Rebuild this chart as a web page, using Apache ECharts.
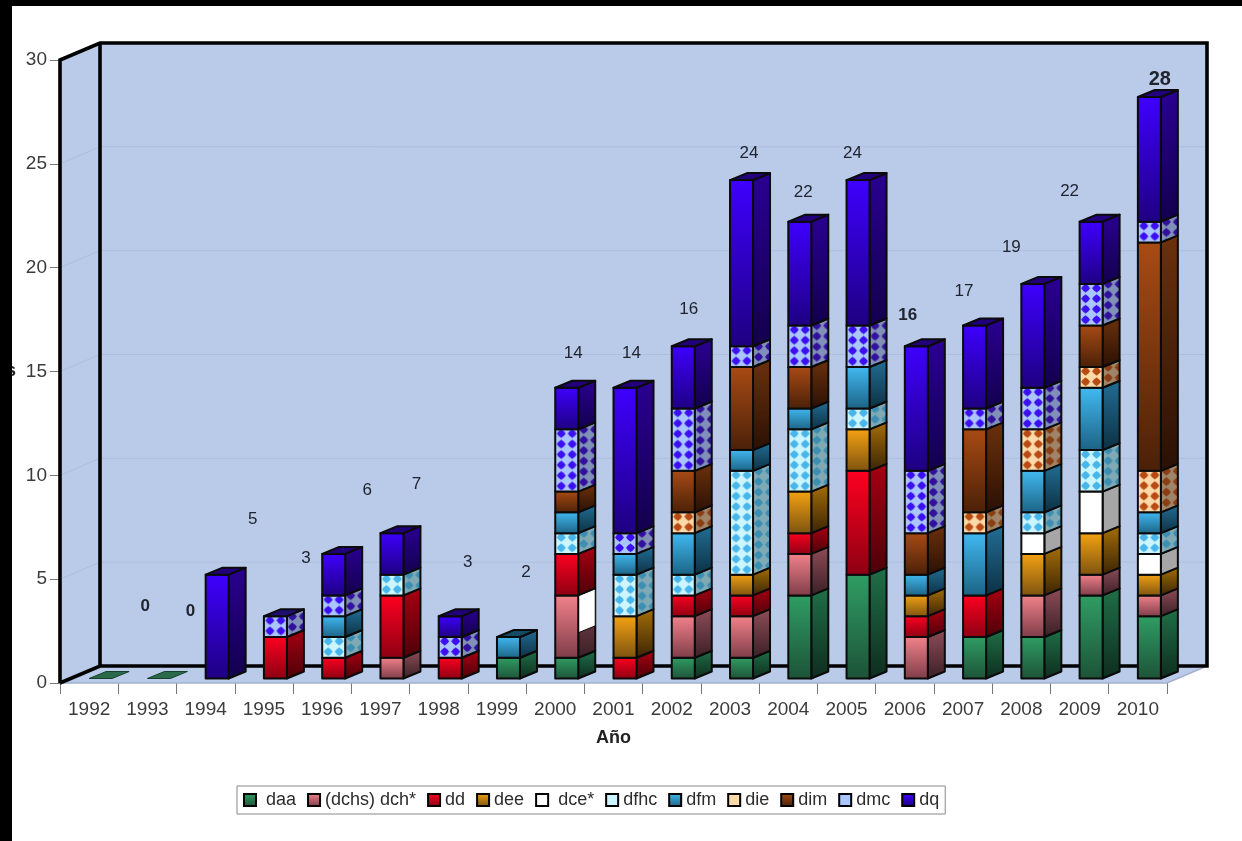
<!DOCTYPE html>
<html><head><meta charset="utf-8">
<style>html,body{margin:0;padding:0;background:#fff}#c{width:1242px;height:841px;filter:blur(0.45px)}</style>
<script src="https://cdn.jsdelivr.net/npm/echarts@6/dist/echarts.min.js"></script>
</head><body><div id="c"></div>
<script>
var years=['1992','1993','1994','1995','1996','1997','1998','1999','2000','2001','2002','2003','2004','2005','2006','2007','2008','2009','2010'];
var daa =[0,0,0,0,0,0,0,1,1,0,1,1,4,5,0,2,2,4,3];
var dch =[0,0,0,0,0,1,0,0,3,0,2,2,2,0,2,0,2,1,1];
var dd  =[0,0,0,2,1,3,1,0,2,1,1,1,1,5,1,2,0,0,0];
var dee =[0,0,0,0,0,0,0,0,0,2,0,1,2,2,1,0,2,2,1];
var dce =[0,0,0,0,0,0,0,0,0,0,0,0,0,0,0,0,1,2,1];
var dfhc=[0,0,0,0,1,1,0,0,1,2,1,5,3,1,0,0,1,2,1];
var dfm =[0,0,0,0,1,0,0,1,1,1,2,1,1,2,1,3,2,3,1];
var die =[0,0,0,0,0,0,0,0,0,0,1,0,0,0,0,1,2,1,2];
var dim =[0,0,0,0,0,0,0,0,1,0,2,4,2,0,2,4,0,2,11];
var dmc =[0,0,0,1,1,0,1,0,3,1,3,1,2,2,3,1,2,2,1];
var dq  =[0,0,5,0,2,2,1,0,2,7,3,8,5,7,6,4,5,3,6];
var totals=[0,0,5,3,6,7,3,2,14,14,16,24,22,24,16,17,19,22,28];
var yTicks=[0,5,10,15,20,25,30];

var labelDx=[56,43,47,42,45,36,29,29,18,18,17,19,15,6,3,1,-10,-10,22];
var labelDy=[-77,-72,-60,-62,-68,-53,-58,-69.5,-39,-39,-41,-31,-34,-31,-35,-39,-41,-35,-22];
var labelBold=[1,1,0,0,0,0,0,0,0,0,0,0,0,0,1,0,0,0,1];

function g(a,b){return {type:'linear',x:0,y:0,x2:0,y2:1,colorStops:[{offset:0,color:a},{offset:1,color:b}]};}
function tile(bg,dot){
  var c=document.createElement('canvas');c.width=11;c.height=21;
  var x=c.getContext('2d');x.fillStyle=bg;x.fillRect(0,0,11,21);x.fillStyle=dot;
  [[5.5,5.25],[5.5,15.75]].forEach(function(p){
    x.beginPath();x.moveTo(p[0],p[1]-4.6);x.lineTo(p[0]+4.6,p[1]);x.lineTo(p[0],p[1]+4.6);x.lineTo(p[0]-4.6,p[1]);x.closePath();x.fill();
    x.beginPath();x.arc(p[0],p[1],3.3,0,Math.PI*2);x.fill();});
  return {image:c,repeat:'repeat'};
}
function at(fill,x,y){return fill&&fill.image?{image:fill.image,repeat:'repeat',x:x,y:y}:fill;}
var styles=[
 {name:'daa',vals:daa,front:g('#2f9e64','#1d5238'),side:g('#1f7048','#0e2c1e'),top:'#123f2a',icon:g('#2f9e64','#1d5238')},
 {name:'(dchs) dch*',vals:dch,front:g('#f4838c','#7d3c48'),side:g('#8f4d58','#3a1f26'),top:'#5a2a32',icon:g('#f4838c','#7d3c48')},
 {name:'dd',vals:dd,front:g('#ff0020','#8c0012'),side:g('#a80012','#4c0008'),top:'#6a000c',icon:g('#ff0020','#8c0012')},
 {name:'dee',vals:dee,front:g('#f6a312','#7c5210'),side:g('#a66e08','#3a2404'),top:'#5a3a06',icon:g('#f6a312','#7c5210')},
 {name:'dce*',vals:dce,front:'#ffffff',side:'#a6a6a6',top:'#777',icon:'#ffffff'},
 {name:'dfhc',vals:dfhc,front:tile('#cdf5ff','#48b6ea'),side:tile('#7fa9b5','#3c8fb2'),top:'#3c7c94',icon:'#cdf5ff'},
 {name:'dfm',vals:dfm,front:g('#42baf2','#1b6284'),side:g('#226e96','#0c3042'),top:'#134a64',icon:g('#42baf2','#1b6284')},
 {name:'die',vals:die,front:tile('#fcd9a8','#b84a14'),side:tile('#a08468','#8a3e14'),top:'#6a3a18',icon:'#fcd9a8'},
 {name:'dim',vals:dim,front:g('#a94b14','#4a2008'),side:g('#6c310c','#2a1004'),top:'#3e1a06',icon:g('#a94b14','#4a2008')},
 {name:'dmc',vals:dmc,front:tile('#aac6fc','#3c0ff0'),side:tile('#8090b8','#30109c'),top:'#1e1070',icon:'#aac6fc'},
 {name:'dq',vals:dq,front:g('#3e00ff','#1e0080'),side:g('#2a0092','#12004c'),top:'#22007c',icon:g('#3e00ff','#1e0080')}
];

var wallColor='#bacbe9', DX=40, DY=-17;
var barW=23, barDX=17, barDY=-7, lift=4.5;
var stroke={stroke:'#0b0b0b',lineWidth:2,lineJoin:'round'};

function poly(pts,fill,st){return {type:'polygon',shape:{points:pts},style:Object.assign({fill:fill},st||stroke)};}

var baseBelow=years.map(function(){return 0;});
var series=[];
series.push({type:'custom',name:'walls',silent:true,z:1,data:[[0]],
  renderItem:function(p,api){
    var cs=p.coordSys,L=cs.x,R=cs.x+cs.width,T=api.coord([0,30])[1],B=api.coord([0,0])[1];
    var ch=[];
    var none={stroke:null};
    ch.push(poly([[L+DX,T+DY],[R+DX,T+DY],[R+DX,B+DY],[L+DX,B+DY]],wallColor,none));
    ch.push(poly([[L,T],[L+DX,T+DY],[L+DX,B+DY],[L,B]],wallColor,none));
    ch.push(poly([[L,B],[L+DX,B+DY],[R+DX,B+DY],[R,B]],wallColor,none));
    yTicks.slice(1,-1).forEach(function(t){
      var y=api.coord([0,t])[1];
      ch.push({type:'polyline',shape:{points:[[L,y],[L+DX,y+DY],[R+DX,y+DY]]},style:{fill:null,stroke:'#aebfde',lineWidth:1}});
    });
    ch.push({type:'polyline',shape:{points:[[L,B],[R,B],[R+DX,B+DY]]},style:{fill:null,stroke:'#a3b1cd',lineWidth:1.5}});
    ch.push({type:'polyline',shape:{points:[[L,B],[L,T],[L+DX,T+DY],[R+DX,T+DY],[R+DX,B+DY],[L+DX,B+DY],[L,B]]},style:{fill:null,stroke:'#000',lineWidth:3.6,lineJoin:'miter'}});
    ch.push({type:'line',shape:{x1:L+DX,y1:T+DY,x2:L+DX,y2:B+DY},style:{stroke:'#000',lineWidth:3.6}});
    return {type:'group',children:ch};
  }});

styles.forEach(function(s,si){
  var rows=s.vals.map(function(v,i){
    var b=baseBelow[i];baseBelow[i]=b+v;return [i,b,b+v];
  });
  series.push({type:'custom',name:s.name,z:5,data:rows,encode:{x:0,y:[1,2]},
    itemStyle:{color:s.icon,borderColor:'#000',borderWidth:2},
    renderItem:function(p,api){
      var i=api.value(0),lo=api.value(1),hi=api.value(2);
      var isFlat=(si===0&&totals[i]===0);
      if(hi===lo&&!isFlat)return null;
      var a=api.coord([i,lo]),b=api.coord([i,hi]);
      var x=a[0],y0=a[1]-lift,y1=b[1]-lift;
      var ch=[];
      if(isFlat){
        return poly([[x,y0],[x+barW,y0],[x+barW+barDX,y0+barDY],[x+barDX,y0+barDY]],'#2a6a4a',{stroke:'#16402c',lineWidth:1});
      }
      ch.push(poly([[x+barW,y1],[x+barW+barDX,y1+barDY],[x+barW+barDX,y0+barDY],[x+barW,y0]],at(s.side,x+barW,y1-5)));
      if(si===1&&i===8){ // the reference's white flaw on this side face
        var yw=api.coord([i,lo+1.2])[1]-lift;
        ch.push(poly([[x+barW,y1],[x+barW+barDX,y1+barDY],[x+barW+barDX,yw+barDY],[x+barW,yw]],'#ffffff',{stroke:'#0b0b0b',lineWidth:1}));
      }
      ch.push(poly([[x,y1],[x+barW,y1],[x+barW,y0],[x,y0]],at(s.front,x+0.5,y1-1)));
      if(hi===totals[i]){
        ch.push(poly([[x,y1],[x+barW,y1],[x+barW+barDX,y1+barDY],[x+barDX,y1+barDY]],s.top));
      }
      return {type:'group',children:ch};
    }});
});

series.push({type:'custom',name:'totals',silent:true,z:6,data:totals.map(function(v,i){return [i,v];}),
  renderItem:function(p,api){
    var i=api.value(0),c=api.coord([i,api.value(1)]);
    return {type:'text',x:c[0]+labelDx[i],y:c[1]+labelDy[i],
      style:{text:String(totals[i]),fill:'#20242f',textAlign:'center',textVerticalAlign:'middle',
        font:(labelBold[i]?'bold ':'')+(i===18?'20px':'17px')+' "Liberation Sans",Arial,sans-serif'}};
  }});

var chart=echarts.init(document.getElementById('c'),null,{renderer:'canvas'});
chart.setOption({
  animation:false,backgroundColor:'#ffffff',
  textStyle:{fontFamily:'"Liberation Sans",Arial,sans-serif'},
  grid:{left:60,right:75,top:60,bottom:158,containLabel:false,outerBoundsMode:'none'},
  xAxis:{type:'category',data:years,boundaryGap:true,name:'Año',nameLocation:'middle',nameGap:46,
    nameTextStyle:{fontWeight:'bold',fontSize:18,color:'#222'},
    axisLine:{show:false},axisTick:{show:true,alignWithLabel:false,length:11,lineStyle:{color:'#777',width:1}},
    axisLabel:{color:'#3c3c3c',fontSize:19,margin:17,interval:0},splitLine:{show:false}},
  yAxis:{type:'value',min:0,max:30,interval:5,name:'s',nameLocation:'middle',nameRotate:0,nameGap:44,
    nameTextStyle:{fontWeight:'bold',fontSize:18,color:'#222'},
    axisLine:{show:false},axisTick:{show:true,length:10,lineStyle:{color:'#777',width:1}},
    axisLabel:{color:'#3c3c3c',fontSize:19,margin:13},splitLine:{show:false}},
  legend:{left:237,top:786,orient:'horizontal',itemWidth:12,itemHeight:12,itemGap:11,padding:[5,6,5,6],
    backgroundColor:'#fff',borderColor:'#888',borderWidth:1,selectedMode:false,
    textStyle:{color:'#2c2c2c',fontSize:18},
    formatter:function(n){return (n==='daa'||n==='dce*')?'\u00a0'+n:n;},
    data:styles.map(function(s){return {name:s.name,icon:'rect',itemStyle:{color:s.icon,borderColor:'#000',borderWidth:2}};})},
  graphic:[
    {type:'rect',z:100,left:0,top:0,shape:{width:12,height:841},style:{fill:'#000'}},
    {type:'rect',z:100,left:0,top:0,shape:{width:1242,height:6},style:{fill:'#000'}}
  ],
  series:series
});
</script></body></html>
